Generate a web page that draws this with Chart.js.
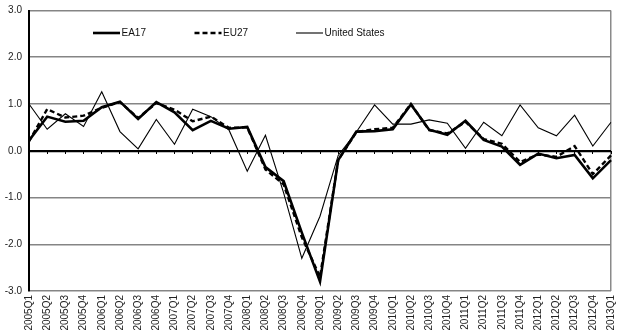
<!DOCTYPE html>
<html>
<head>
<meta charset="utf-8">
<script src="https://cdn.jsdelivr.net/npm/chart.js@4.4.1/dist/chart.umd.min.js"></script>
<style>
  html, body { margin: 0; padding: 0; background: #fff; }
</style>
</head>
<body>
<canvas id="myChart" width="620" height="334"></canvas>
<script>
// quarters 2005Q1 .. 2013Q1
const quarters = [
  "2005Q1", "2005Q2", "2005Q3", "2005Q4",
  "2006Q1", "2006Q2", "2006Q3", "2006Q4",
  "2007Q1", "2007Q2", "2007Q3", "2007Q4",
  "2008Q1", "2008Q2", "2008Q3", "2008Q4",
  "2009Q1", "2009Q2", "2009Q3", "2009Q4",
  "2010Q1", "2010Q2", "2010Q3", "2010Q4",
  "2011Q1", "2011Q2", "2011Q3", "2011Q4",
  "2012Q1", "2012Q2", "2012Q3", "2012Q4",
  "2013Q1"
];

const ea17 = [
  0.22, 0.73, 0.62, 0.64, 0.93, 1.05, 0.68, 1.04,
  0.82, 0.44, 0.64, 0.47, 0.51, -0.35, -0.65, -1.75,
  -2.8, -0.2, 0.41, 0.42, 0.46, 0.99, 0.45, 0.34,
  0.64, 0.23, 0.09, -0.3, -0.06, -0.16, -0.09, -0.59,
  -0.2
];

const eu27 = [
  0.2, 0.89, 0.71, 0.75, 0.92, 1.04, 0.7, 1.02,
  0.88, 0.63, 0.73, 0.49, 0.5, -0.4, -0.72, -1.85,
  -2.7, -0.2, 0.4, 0.46, 0.49, 1.0, 0.44, 0.37,
  0.62, 0.25, 0.15, -0.24, -0.08, -0.13, 0.1, -0.5,
  -0.1
];

const unitedStates = [
  1.0, 0.46, 0.79, 0.52, 1.26, 0.41, 0.04, 0.67,
  0.14, 0.89, 0.73, 0.44, -0.44, 0.33, -0.9, -2.3,
  -1.4, -0.1, 0.4, 0.98, 0.57, 0.57, 0.66, 0.59,
  0.05, 0.61, 0.32, 0.98, 0.49, 0.32, 0.76, 0.1,
  0.61
];

const yMin = -3;
const yMax = 3;
const yStep = 1;

const FONT = '"Liberation Sans", Arial, sans-serif';

// legend drawn inside the plot, one row across the top
const lineLegend = {
  id: 'lineLegend',
  afterDraw(chart) {
    const { ctx, chartArea } = chart;
    ctx.save();
    ctx.font = '10px ' + FONT;
    ctx.textBaseline = 'middle';
    chart.data.datasets.forEach((ds, i) => {
      const x = chartArea.left + 64 + i * 101.5;
      const y = chartArea.top + 22.5;
      ctx.beginPath();
      ctx.setLineDash(ds.borderDash || []);
      ctx.lineWidth = ds.borderWidth;
      ctx.strokeStyle = ds.borderColor;
      ctx.moveTo(x, y);
      ctx.lineTo(x + 27, y);
      ctx.stroke();
      ctx.setLineDash([]);
      ctx.fillStyle = '#111';
      ctx.fillText(ds.label, x + 28.5, y + 0.5);
    });
    ctx.restore();
  }
};

const canvas = document.getElementById('myChart');
const myChart = new Chart(canvas, {
  type: 'line',
  data: {
    labels: quarters,
    datasets: [
      {
        label: 'EA17',
        data: ea17,
        borderColor: '#000',
        borderWidth: 2.6,
        pointRadius: 0,
        tension: 0,
      },
      {
        label: 'EU27',
        data: eu27,
        borderColor: '#000',
        borderWidth: 2.4,
        borderDash: [5, 3],
        pointRadius: 0,
        tension: 0,
      },
      {
        label: 'United States',
        data: unitedStates,
        borderColor: '#000',
        borderWidth: 1.1,
        pointRadius: 0,
        tension: 0,
      },
    ],
  },
  options: {
    responsive: false,
    animation: false,
    devicePixelRatio: 1,
    layout: { padding: { top: 10.5, right: 9, bottom: 2, left: 0 } },
    plugins: {
      legend: { display: false },
      tooltip: { enabled: false },
    },
    scales: {
      x: {
        type: 'category',
        offset: false,
        border: { display: false },
        grid: {
          drawTicks: false,
          color: (c) => (c.index === quarters.length - 1 ? '#8a8a8a' : 'rgba(0,0,0,0)'),
          lineWidth: 1.5,
        },
        ticks: {
          autoSkip: false,
          minRotation: 90,
          maxRotation: 90,
          padding: 4,
          color: '#222',
          font: { size: 10, family: FONT },
        },
        afterFit: (scale) => {
          scale.height = 41;
          scale.paddingLeft = 0;
          scale.paddingRight = 0;
        },
      },
      xZero: {
        type: 'category',
        position: { y: 0 },
        offset: false,
        border: { display: false },
        grid: {
          drawOnChartArea: false,
          drawTicks: true,
          tickLength: 3,
          color: '#000',
          lineWidth: 1,
        },
        ticks: { display: false },
      },
      y: {
        min: yMin,
        max: yMax,
        border: { display: true, color: '#000', width: 2 },
        grid: {
          drawTicks: false,
          color: (c) => (c.tick.value === 0 ? '#000' : '#858585'),
          lineWidth: (c) => (c.tick.value === 0 ? 2.2 : 1.5),
        },
        ticks: {
          stepSize: yStep,
          padding: 7,
          color: '#222',
          font: { size: 10, family: FONT },
          callback: (v) => Number(v).toFixed(1),
        },
        afterFit: (scale) => {
          scale.width = 29;
          scale.paddingTop = 0;
          scale.paddingBottom = 0;
        },
      },
    },
  },
  plugins: [lineLegend],
});
</script>
</body>
</html>
